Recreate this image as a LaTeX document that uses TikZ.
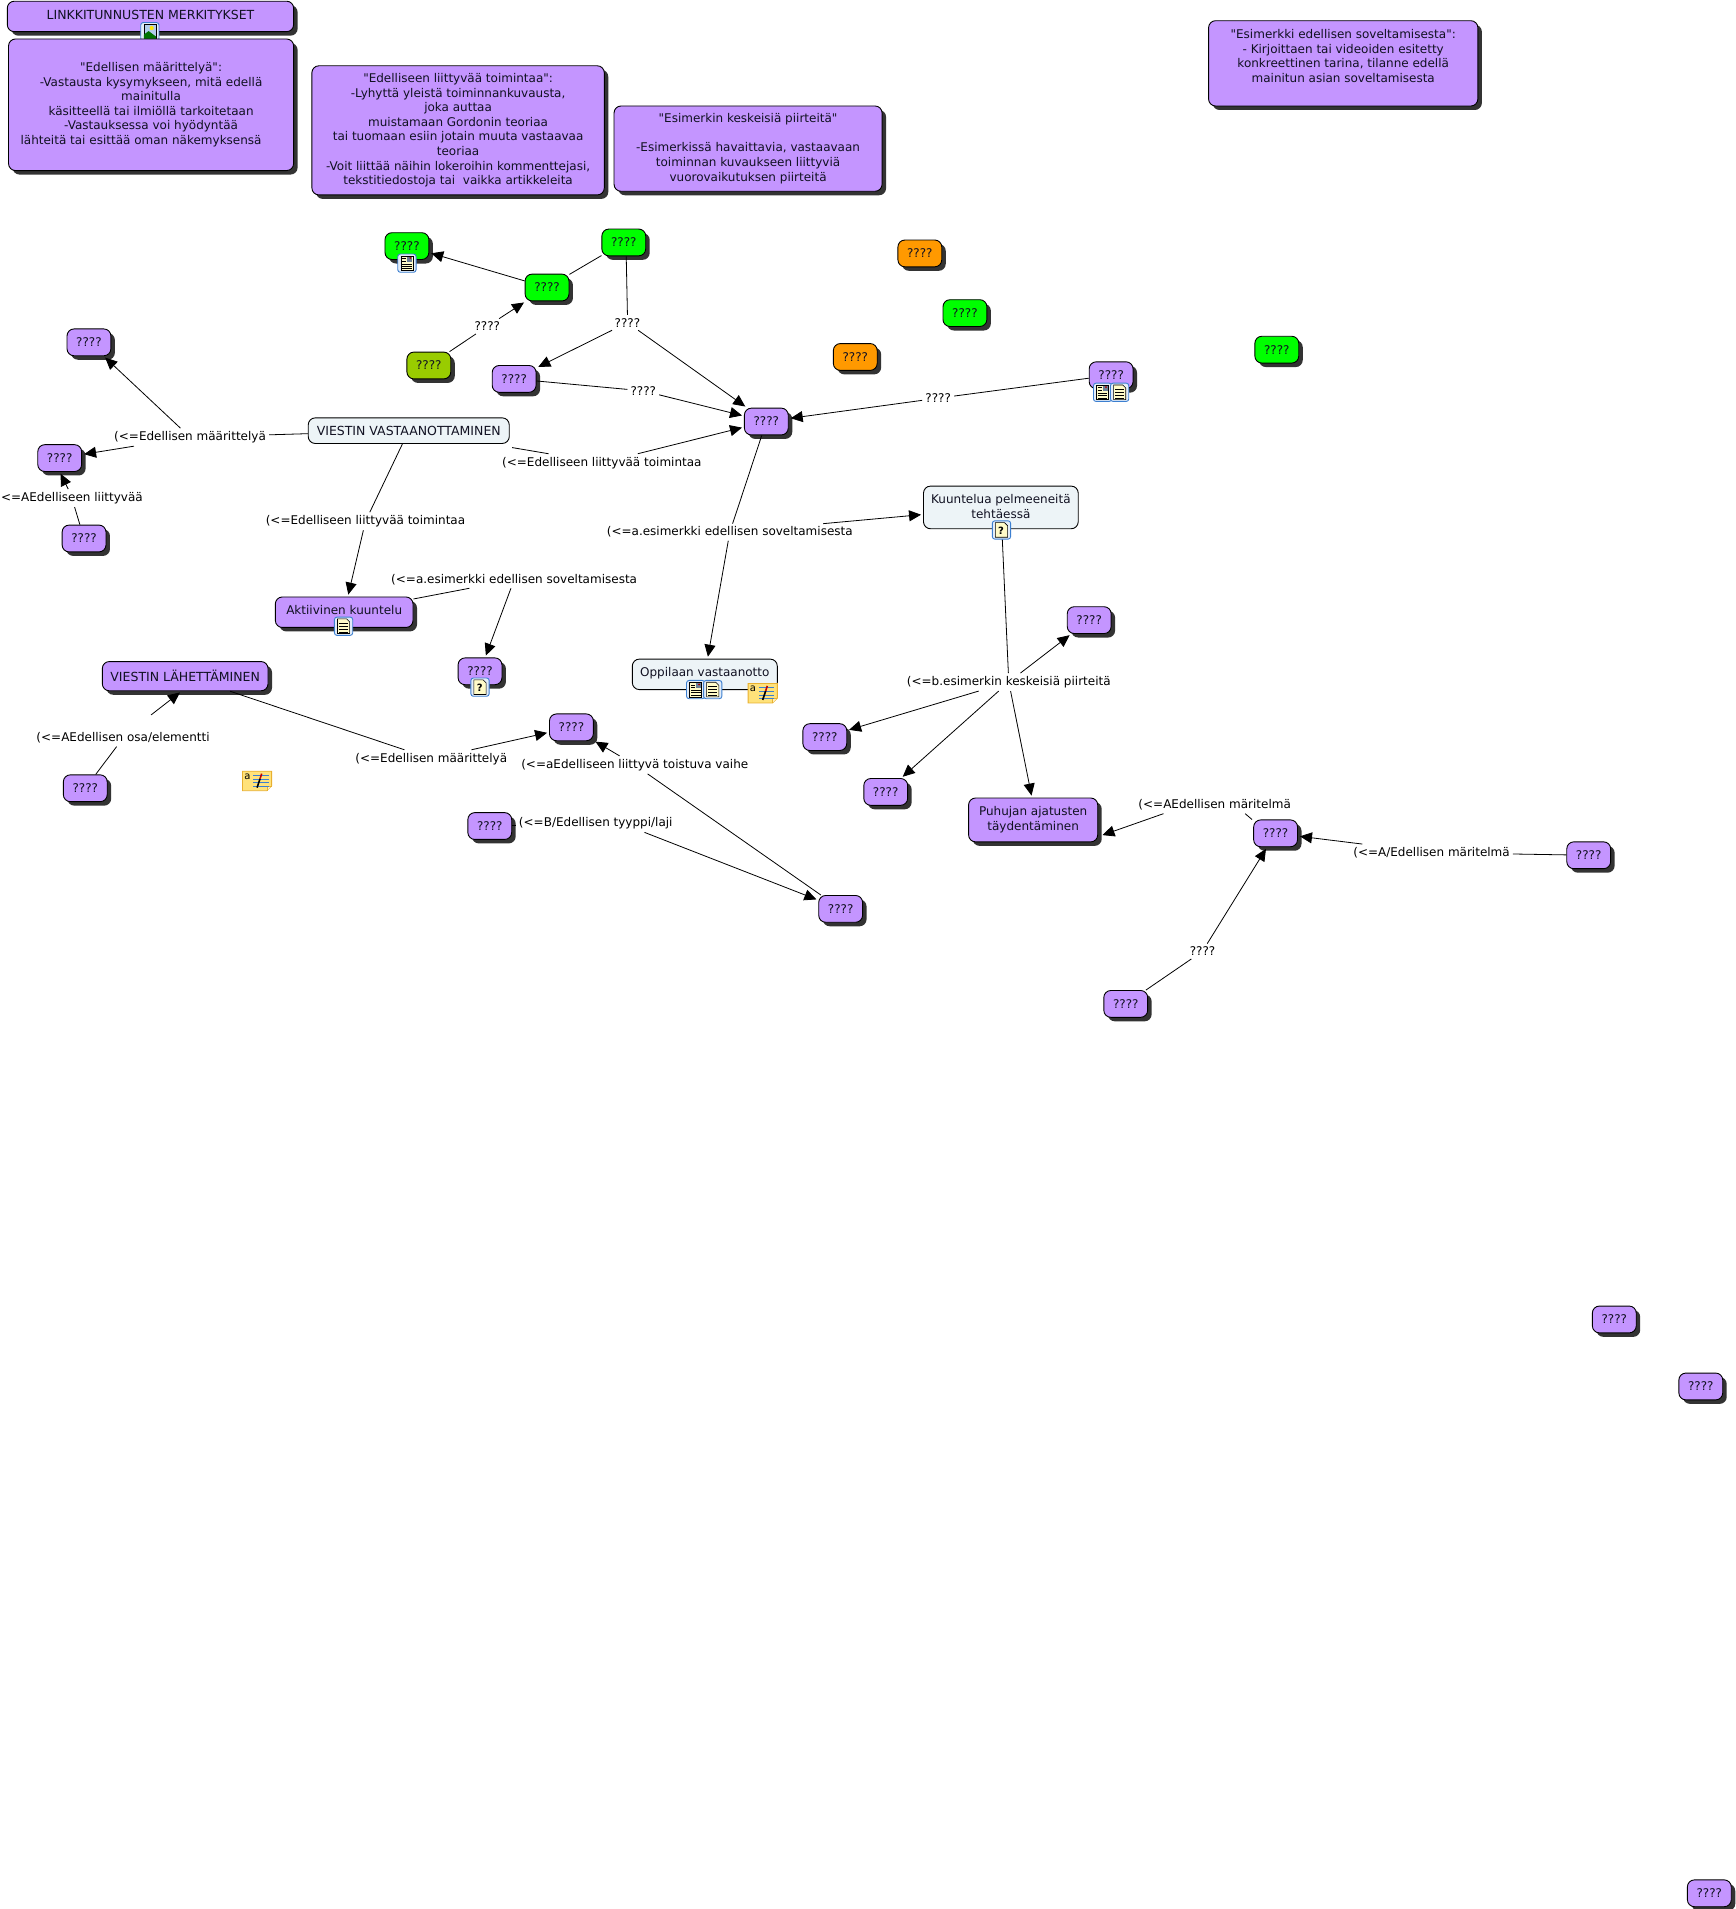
\documentclass[tikz,border=0pt]{standalone}
\usepackage{fontspec}
\setmainfont{DejaVu Sans}
\newfontfamily\rawf{DejaVu Sans}
\usetikzlibrary{arrows.meta,shadows}
\definecolor{pur}{HTML}{C495FF}
\definecolor{grn}{HTML}{00FF00}
\definecolor{oli}{HTML}{99CC00}
\definecolor{org}{HTML}{FF9900}
\definecolor{lgt}{HTML}{EDF4F7}
\definecolor{shd}{HTML}{333333}
\definecolor{ink}{HTML}{111122}
\definecolor{iblue}{HTML}{3C7FD0}
\definecolor{ipage}{HTML}{FFFBC8}
\definecolor{nyel}{HTML}{FFE27A}
\definecolor{nedge}{HTML}{E8B030}
\newcommand{\qq}{{\rawf\symbol{34}}}
\newcommand{\upc}{\fontsize{12.5}{14.6}\selectfont}
\tikzset{
  base/.style={draw=black,line width=0.9pt,rounded corners=7pt,inner sep=0pt,align=center,text=ink,
    font=\fontsize{12}{14.6}\selectfont},
  shad/.style={drop shadow={shadow xshift=4pt,shadow yshift=-4pt,opacity=1,fill=shd}},
  pbox/.style={base,shad,fill=pur},
  gbox/.style={base,shad,fill=grn},
  obox/.style={base,shad,fill=oli},
  rbox/.style={base,shad,fill=org},
  lbox/.style={base,fill=lgt},
  lab/.style={inner xsep=3pt,inner ysep=3pt,yshift=-1pt,text=black,font=\fontsize{12}{14.6}\selectfont},
  conn/.style={line width=0.8pt,draw=black},
  arr/.style={conn,-{Triangle[length=12pt,width=11pt]},shorten >=2pt}
}
\newcommand{\mapbox}[7]{\node[#1,minimum width={(#4-#2)*1.2183pt},minimum height={(#5-#3)*1.2183pt}] (#6) at ({(#2+#4)/2},{(#3+#5)/2}) {#7};}
\newcommand{\qbox}[4]{\mapbox{#1}{#3}{#4}{#3+36}{#4+22}{#2}{????}}
\newcommand{\iconframe}[2]{
  \draw[iblue,line width=0.9pt,fill=white!85!iblue,rounded corners=2.5pt] (#1-7.5,#2-7.5) rectangle (#1+7.5,#2+7.5);}
\newcommand{\iconpage}[2]{
  \draw[black,line width=0.6pt,fill=ipage] (#1-5,#2-6) -- (#1+2.5,#2-6) -- (#1+5,#2-3.5) -- (#1+5,#2+6) -- (#1-5,#2+6) -- cycle;}
\newcommand{\icondoc}[2]{\iconframe{#1}{#2}\iconpage{#1}{#2}
  \foreach \k in {-2.5,0,2.5,4.5}{\draw[black,line width=0.35pt] (#1-3.5,#2+\k) -- (#1+3.5,#2+\k);}}
\newcommand{\iconnews}[2]{\iconframe{#1}{#2}
  \draw[black,line width=0.6pt,fill=ipage] (#1-5,#2-6) rectangle (#1+5,#2+6);
  \fill[gray!70!iblue] (#1+0.3,#2-5.2) rectangle (#1+4.2,#2-1);
  \fill[red!70!black] (#1+2.8,#2-4.2) circle (0.8);
  \foreach \k in {-4,-2}{\draw[black,line width=0.35pt] (#1-4,#2+\k) -- (#1-0.8,#2+\k);}
  \foreach \k in {0.5,2.5,4.5}{\draw[black,line width=0.35pt] (#1-4,#2+\k) -- (#1+4,#2+\k);}}
\newcommand{\iconq}[2]{\iconframe{#1}{#2}\iconpage{#1}{#2}
  \node[inner sep=0pt,font=\bfseries\fontsize{10}{10}\selectfont] at (#1-0.3,#2+0.3) {?};}
\newcommand{\iconimg}[2]{\iconframe{#1}{#2}
  \draw[black,line width=0.5pt,fill=white!60!iblue] (#1-5,#2-6) rectangle (#1+5,#2+6);
  \fill[yellow!90!orange] (#1+1.5,#2-3) circle (1.7);
  \fill[green!45!black] (#1-5,#2+6) -- (#1-5,#2+2.5) -- (#1-1,#2-0.5) -- (#1+5,#2+4) -- (#1+5,#2+6) -- cycle;}
\newcommand{\iconnote}[2]{
  \draw[nedge,line width=0.9pt,fill=nyel] (#1-12,#2-8) -- (#1+12,#2-8) -- (#1+12,#2+4) -- (#1+8,#2+8) -- (#1-12,#2+8) -- cycle;
  \draw[nedge,line width=0.6pt,fill=white!50!nyel] (#1+12,#2+4) -- (#1+8,#2+4) -- (#1+8,#2+8);
  \node[inner sep=0pt,text=black,font=\fontsize{10}{10}\selectfont] at (#1-8,#2-3.5) {a};
  \foreach \k in {-4.5,-1.5,1.5,4.5}{\draw[iblue,line width=0.7pt] (#1-3,#2+\k) -- (#1+9.5,#2+\k);}
  \draw[black,line width=1.6pt] (#1,#2+5.5) -- (#1+2.5,#2-2);
  \draw[red!75!black,line width=1.6pt] (#1+2.5,#2-2) -- (#1+3.8,#2-6);}
\begin{document}
\begin{tikzpicture}[x=1.2183pt,y=-1.2183pt]
\useasboundingbox (0,0) rectangle (1424.1,1566.9);
% title + info boxes
\mapbox{pbox}{6}{1}{241}{26}{title}{\raisebox{4pt}{\upc LINKKITUNNUSTEN MERKITYKSET}}
\iconimg{123}{26}
\mapbox{pbox}{7}{32}{241}{140}{def}{\qq Edellisen määrittelyä\qq :\\-Vastausta kysymykseen, mitä edellä\hspace*{4pt}\\mainitulla\\käsitteellä tai ilmiöllä tarkoitetaan\\-Vastauksessa voi hyödyntää\\lähteitä tai esittää oman näkemyksensä\hspace*{20pt}}
\mapbox{pbox}{256}{54}{496}{160}{act}{\qq Edelliseen liittyvää toimintaa\qq :\\-Lyhyttä yleistä toiminnankuvausta,\hspace*{2pt}\\joka auttaa\\muistamaan Gordonin teoriaa\\tai tuomaan esiin jotain muuta vastaavaa\\teoriaa\\-Voit liittää näihin lokeroihin kommenttejasi,\\tekstitiedostoja tai\ \ vaikka artikkeleita}
\mapbox{pbox}{504}{87}{724}{157}{feat}{\qq Esimerkin keskeisiä piirteitä\qq\\[14.6pt]-Esimerkissä havaittavia, vastaavaan\\toiminnan kuvaukseen liittyviä\\vuorovaikutuksen piirteitä}
\mapbox{pbox}{992}{17}{1213}{87}{appl}{\qq Esimerkki edellisen soveltamisesta\qq :\\- Kirjoittaen tai videoiden esitetty\hspace*{4pt}\\konkreettinen tarina, tilanne edellä\hspace*{4pt}\\mainitun asian soveltamisesta\hspace*{22pt}\\\mbox{}}
% question nodes
\qbox{gbox}{g1}{316}{191}
\qbox{gbox}{g2}{431}{225}
\qbox{gbox}{g3}{494}{188}
\qbox{obox}{o1}{334}{289}
\qbox{pbox}{p1}{404}{300}
\qbox{pbox}{pc}{611}{335}
\qbox{rbox}{r1}{737}{197}
\qbox{rbox}{r2}{684}{282}
\qbox{gbox}{g4}{774}{246}
\qbox{gbox}{g5}{1030}{276}
\qbox{pbox}{pr}{894}{297}
\qbox{pbox}{a1}{55}{270}
\qbox{pbox}{a2}{31}{365}
\qbox{pbox}{a3}{51}{431}
\qbox{pbox}{b1}{376}{540}
\qbox{pbox}{c1}{52}{636}
\qbox{pbox}{d1}{451}{586}
\qbox{pbox}{d2}{384}{667}
\qbox{pbox}{d3}{672}{735}
\qbox{pbox}{e1}{876}{498}
\qbox{pbox}{e2}{659}{594}
\qbox{pbox}{e3}{709}{639}
\qbox{pbox}{f1}{1029}{673}
\qbox{pbox}{f2}{1286}{691}
\qbox{pbox}{f3}{906}{813}
\qbox{pbox}{h1}{1307}{1072}
\qbox{pbox}{h2}{1378}{1127}
\qbox{pbox}{h3}{1385}{1543}
% concept nodes
\mapbox{lbox}{253}{343}{418}{364}{vv}{\upc VIESTIN VASTAANOTTAMINEN}
\mapbox{lbox}{758}{399}{885}{434}{kp}{\raisebox{2pt}{\shortstack{Kuuntelua pelmeeneitä\\[1pt]tehtäessä}}}
\mapbox{pbox}{226}{490}{339}{515}{ak}{\raisebox{4pt}{Aktiivinen kuuntelu}}
\mapbox{lbox}{519}{541}{638}{566}{ov}{\raisebox{4pt}{Oppilaan vastaanotto}}
\mapbox{pbox}{84}{543}{220}{567}{vl}{\upc VIESTIN LÄHETTÄMINEN}
\mapbox{pbox}{795}{655}{901}{691}{pa}{Puhujan ajatusten\\täydentäminen}
% link labels
\node[lab] (l1) at (400,267) {????};
\node[lab] (l2) at (515,264) {????};
\node[lab] (l3) at (528,320) {????};
\node[lab] (l4) at (770,326) {????};
\node[lab] (l5) at (156,358) {(<=Edellisen määrittelyä};
\node[lab] (l6) at (494,379) {(<=Edelliseen liittyvää toimintaa};
\node[lab] (l7) at (300,427) {(<=Edelliseen liittyvää toimintaa};
\node[lab] (l8) at (59,408) {<=AEdelliseen liittyvää};
\node[lab] (l9) at (422,475) {(<=a.esimerkki edellisen soveltamisesta};
\node[lab] (l10) at (599,436) {(<=a.esimerkki edellisen soveltamisesta};
\node[lab] (l11) at (828,559) {(<=b.esimerkin keskeisiä piirteitä};
\node[lab] (l12) at (101,605) {(<=AEdellisen osa/elementti};
\node[lab] (l13) at (354,622) {(<=Edellisen määrittelyä};
\node[lab] (l14) at (521,627) {(<=aEdelliseen liittyvä toistuva vaihe};
\node[lab] (l15) at (489,675) {(<=B/Edellisen tyyppi/laji};
\node[lab] (l16) at (997,660) {(<=AEdellisen märitelmä};
\node[lab] (l17) at (1175,699) {(<=A/Edellisen märitelmä};
\node[lab] (l18) at (987,780) {????};
% connectors
\draw[conn] (o1) -- (l1); \draw[arr] (l1) -- (g2);
\draw[arr] (g2) -- (g1);
\draw[conn] (g3) -- (g2);
\draw[conn] ([shift={(2,0)}]g3.south) -- (l2.north); \draw[arr] (l2) -- (p1); \draw[arr] (l2) -- (pc);
\draw[conn] (p1) -- (l3); \draw[arr] (l3) -- (pc);
\draw[conn] (pr) -- (l4); \draw[arr] (l4) -- (pc);
\draw[conn] (vv) -- (l5); \draw[arr] (l5) -- (a1); \draw[arr] (l5) -- (a2);
\draw[conn] ([shift={(2,3)}]vv.south east) -- (l6); \draw[arr] (l6) -- (pc);
\draw[conn] (vv) -- (l7); \draw[arr] (l7) -- (ak);
\draw[conn] (a3) -- (l8); \draw[arr] ([shift={(-3,0)}]l8.north) -- (a2.south);
\draw[conn] (ak) -- (l9); \draw[arr] (l9) -- (b1);
\draw[conn] (pc) -- (l10); \draw[arr] (l10) -- (kp); \draw[arr] (l10) -- (ov);
\draw[conn] (kp) -- (l11); \draw[arr] (l11) -- (e1); \draw[arr] (l11) -- (e2); \draw[arr] (l11) -- (e3); \draw[arr] (l11) -- ([shift={(-1,0)}]pa.north);
\draw[conn] (c1) -- (l12); \draw[arr] ([shift={(23,-12)}]l12.north) -- ([shift={(-3,0)}]vl.south);
\draw[conn] (vl) -- (l13); \draw[arr] (l13) -- (d1);
\draw[conn] (d3) -- (l14); \draw[arr] (l14) -- (d1);
\draw[conn] (d2) -- (l15); \draw[arr] ([shift={(40,0)}]l15.south) -- (d3);
\draw[conn] ([shift={(-1,0)}]f1.north west) -- ([shift={(25,0)}]l16.south); \draw[arr] ([shift={(-42,0)}]l16.south) -- ([shift={(2,13)}]pa.east);
\draw[conn] (f2) -- (l17); \draw[arr] (l17) -- (f1);
\draw[conn] (f3) -- (l18); \draw[arr] (l18) -- (f1);
% icons
\iconnews{334}{216}
\iconnews{905}{322}
\icondoc{919}{322}
\iconq{822}{435}
\icondoc{282}{514}
\iconq{394}{564}
\iconnews{571}{566}
\icondoc{585}{566}
\iconnote{626}{569}
\iconnote{211}{641}
\end{tikzpicture}
\end{document}
